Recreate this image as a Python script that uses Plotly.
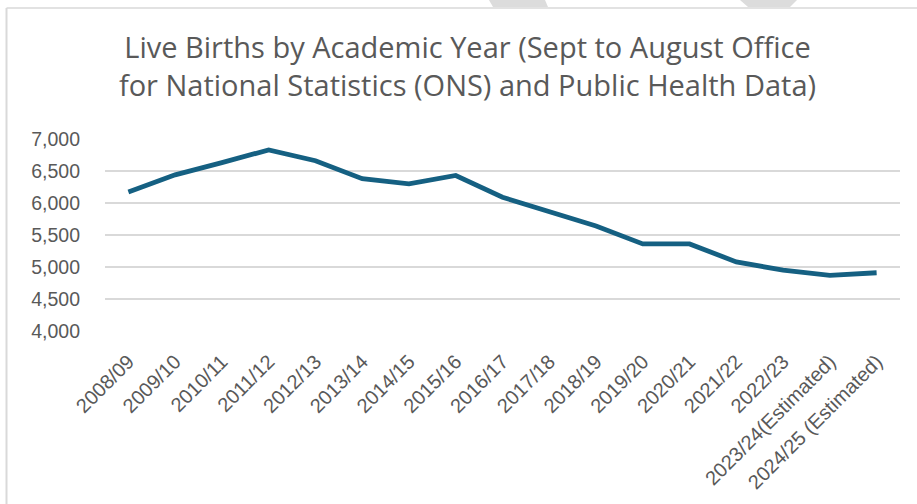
import plotly.graph_objects as go

years = ["2008/09", "2009/10", "2010/11", "2011/12", "2012/13", "2013/14",
         "2014/15", "2015/16", "2016/17", "2017/18", "2018/19", "2019/20",
         "2020/21", "2021/22", "2022/23", "2023/24(Estimated)", "2024/25 (Estimated)"]
births = [6170, 6440, 6630, 6830, 6660, 6380, 6300, 6430, 6090, 5860, 5640,
          5360, 5360, 5080, 4950, 4870, 4910]
y_ticks = [4000, 4500, 5000, 5500, 6000, 6500, 7000]

W, H = 917, 504
L, R, T, B = 105, 900, 139, 331


def px(x):
    return (x - L) / (R - L)


def py(y):
    return (B - y) / (B - T)


fig = go.Figure()
fig.add_trace(go.Scatter(
    x=years, y=births, mode="lines",
    line=dict(color="#156082", width=4.8),
    hoverinfo="x+y",
))

shapes = [
    # outer chart border (left and top visible)
    dict(type="line", xref="paper", yref="paper",
         x0=px(6.5), x1=px(6.5), y0=py(8), y1=py(520),
         line=dict(color="#d9d9d9", width=2)),
    dict(type="line", xref="paper", yref="paper",
         x0=px(6.5), x1=px(930), y0=py(8), y1=py(8),
         line=dict(color="#d9d9d9", width=1.5)),
    # gray decorative stripes above the border
    dict(type="path", xref="paper", yref="paper",
         path=f"M {px(489)},{py(0)} L {px(545)},{py(0)} L {px(548)},{py(7)} L {px(493)},{py(7)} Z",
         fillcolor="#dcdcdc", line=dict(width=0)),
    dict(type="path", xref="paper", yref="paper",
         path=f"M {px(740)},{py(0)} L {px(797)},{py(0)} L {px(790)},{py(7)} L {px(748)},{py(7)} Z",
         fillcolor="#dcdcdc", line=dict(width=0)),
]

fig.update_layout(
    width=W, height=H,
    margin=dict(l=L, r=W - R, t=T, b=H - B, autoexpand=False),
    paper_bgcolor="white", plot_bgcolor="white",
    showlegend=False,
    title=dict(
        text="Live Births by Academic Year (Sept to August Office<br>for National Statistics (ONS) and Public Health Data)",
        x=467.5 / W, xanchor="center", xref="container",
        y=1 - 58 / H, yanchor="top", yref="container",
        font=dict(family="Open Sans", size=29, color="#595959"),
    ),
    xaxis=dict(
        type="category", range=[-0.5, len(years) - 0.5],
        showgrid=False, showline=False, zeroline=False,
        tickangle=-45, ticks="outside", ticklen=10, tickcolor="rgba(0,0,0,0)",
        tickfont=dict(family="Liberation Sans", size=20, color="#595959"),
    ),
    yaxis=dict(
        range=[4000, 7000], tickvals=y_ticks,
        ticktext=[f"{v:,}" for v in y_ticks],
        showgrid=True, gridcolor="#d9d9d9", gridwidth=1.5,
        showline=False, zeroline=False, ticks="",
        ticklabelstandoff=24,
        tickfont=dict(family="Liberation Sans", size=19.5, color="#595959"),
    ),
    shapes=shapes,
)

fig.write_html("out.html", config={"displayModeBar": False},
               post_script="document.body.style.margin='0';")
